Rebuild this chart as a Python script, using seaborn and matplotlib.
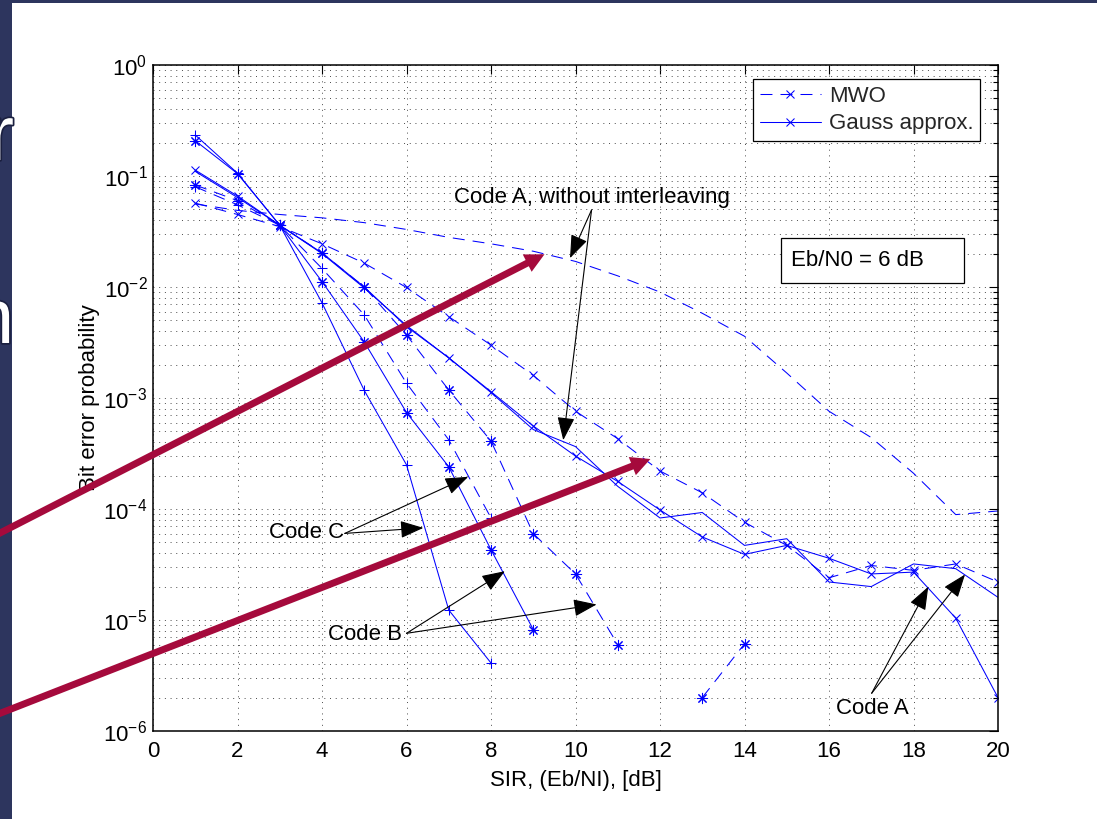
import numpy as np
import matplotlib
matplotlib.use("Agg")
import matplotlib.pyplot as plt
import matplotlib.patheffects as pe
import seaborn as sns
from matplotlib.lines import Line2D
from matplotlib.patches import Rectangle, FancyArrowPatch
from matplotlib.ticker import (NullFormatter, NullLocator, FixedLocator,
                               LogFormatterSciNotation)

nan = np.nan

# SIR grid (Eb/NI in dB)
sir = np.arange(1, 21)

# Code A, without interleaving
a_noint_mwo = [0.056, 0.049, 0.045, 0.042, 0.038, 0.033, 0.028, 0.0245, 0.021, 0.017,
               0.0126, 0.0090, 0.0058, 0.0036, 0.00168, 7.6e-4, 4.4e-4, 2.1e-4, 8.9e-5, 9.6e-5]
a_noint_gauss = [0.11, 0.064, 0.036, 0.0200, 0.0098, 0.0045, 0.0023, 0.00112, 5.2e-4, 3.65e-4,
                 1.6e-4, 8.3e-5, 9.3e-5, 4.7e-5, 5.4e-5, 2.2e-5, 2.0e-5, 3.2e-5, 2.9e-5, 1.6e-5]
# Code A
a_mwo = [0.057, 0.045, 0.035, 0.0245, 0.0164, 0.0099, 0.0054, 0.0030, 0.0016, 7.6e-4,
         4.3e-4, 2.2e-4, 1.4e-4, 7.6e-5, 4.7e-5, 2.4e-5, 3.1e-5, 2.8e-5, 3.2e-5, 2.2e-5]
a_gauss = [0.113, 0.066, 0.036, 0.0203, 0.0100, 0.0044, 0.0023, 0.00114, 5.6e-4, 3.0e-4,
           1.77e-4, 9.8e-5, 5.6e-5, 3.9e-5, 4.7e-5, 3.6e-5, 2.6e-5, 2.7e-5, 1.04e-5, 2.0e-6]
# Code B
b_mwo = [0.083, 0.060, 0.036, 0.0203, 0.0100, 0.0037, 0.00118, 4.1e-4, 6.0e-5, 2.6e-5,
         6.0e-6, nan, 2.0e-6, 6.1e-6, nan, nan, nan, nan, nan, nan]
b_gauss = [0.208, 0.105, 0.036, 0.0112, 0.0032, 7.4e-4, 2.4e-4, 4.3e-5, 8.2e-6, nan,
           nan, nan, nan, nan, nan, nan, nan, nan, nan, nan]
# Code C
c_mwo = [0.080, 0.055, 0.036, 0.0147, 0.0056, 0.00136, 4.2e-4, 8.3e-5, nan, nan,
         nan, nan, nan, nan, nan, nan, nan, nan, nan, nan]
c_gauss = [0.234, 0.106, 0.036, 0.0072, 0.00117, 2.5e-4, 1.23e-5, 4.1e-6, nan, nan,
           nan, nan, nan, nan, nan, nan, nan, nan, nan, nan]

x_ticks = list(range(0, 21, 2))
y_decades = list(range(-6, 1))
legend_labels = ["MWO", "Gauss approx."]

sns.set_theme(style="white")
plt.rcParams["font.family"] = ["Liberation Sans", "DejaVu Sans"]
plt.rcParams["mathtext.default"] = "regular"
plt.rcParams["lines.scale_dashes"] = False

W, H = 1097, 819
NAVY = "#2D355E"
RED = "#A50A3C"
BLUE = "#0000FF"
DASH = (0, (8.6, 5.8))
FS = 16

fig = plt.figure(figsize=(W / 100, H / 100), dpi=100)
fig.patch.set_facecolor("white")


def fx(px):
    return px / W


def fy(py):
    return 1 - py / H


# slide frame
fig.add_artist(Rectangle((0, 0), fx(12), 1, transform=fig.transFigure,
                         facecolor=NAVY, edgecolor="none", zorder=0))
fig.add_artist(Rectangle((0, fy(3)), 1, 3 / H, transform=fig.transFigure,
                         facecolor=NAVY, edgecolor="none", zorder=0))
for ch, base in (("r", 160), ("n", 343)):
    fig.text(fx(14), fy(base), ch, ha="right", va="baseline", fontsize=56,
             color="white", zorder=1,
             path_effects=[pe.withStroke(linewidth=2.5, foreground="#1b2040")])

ax = fig.add_axes([fx(153), fy(731), (998 - 153) / W, (731 - 65) / H])
ax.set_facecolor("white")
ax.set_yscale("log")


def draw(y, style, marker=None, ms=6.0):
    y = np.asarray(y, dtype=float)
    ok = np.isfinite(y)
    # split into contiguous runs so missing points leave a gap
    edges = np.flatnonzero(np.diff(np.r_[0, ok.astype(int), 0]))
    for s, e in zip(edges[::2], edges[1::2]):
        kw = dict(color=BLUE, lw=0.75, linestyle=style, ax=ax, legend=False)
        if marker is not None:
            kw.update(marker=marker, markersize=ms, markeredgewidth=0.75,
                      markeredgecolor=BLUE, markerfacecolor="none")
        sns.lineplot(x=sir[s:e], y=y[s:e], **kw)


AST = (8, 2, 0)
draw(a_noint_mwo, DASH)
draw(a_noint_gauss, "-")
draw(a_mwo, DASH, "x", 5.8)
draw(a_gauss, "-", "x", 5.8)
draw(b_mwo, DASH, AST, 8.0)
draw(b_gauss, "-", AST, 8.0)
draw(c_mwo, DASH, "+", 7.5)
draw(c_gauss, "-", "+", 7.5)

ax.set_xlim(0, 20)
ax.set_ylim(1e-6, 1)
ax.xaxis.set_major_locator(FixedLocator(x_ticks))
ax.xaxis.set_minor_locator(NullLocator())
ax.yaxis.set_major_locator(FixedLocator([10.0 ** d for d in y_decades]))
ax.yaxis.set_major_formatter(LogFormatterSciNotation())
ax.yaxis.set_minor_locator(FixedLocator(
    [k * 10.0 ** d for d in y_decades[:-1] for k in range(2, 10)]))
ax.yaxis.set_minor_formatter(NullFormatter())

dots = (0, (0.7, 3.4))
ax.grid(True, which="major", axis="both", color="#4a4a4a", lw=0.7, linestyle=dots)
ax.grid(True, which="minor", axis="y", color="#4a4a4a", lw=0.7, linestyle=dots)
ax.set_axisbelow(True)

for sp in ax.spines.values():
    sp.set_visible(True)
    sp.set_color("black")
    sp.set_linewidth(1.1)
ax.tick_params(which="both", direction="in", top=True, right=True, colors="black",
               labelsize=FS, width=0.8)
ax.tick_params(which="major", length=6.5)
ax.tick_params(which="minor", length=3.5)
ax.tick_params(axis="x", pad=7)
ax.tick_params(axis="y", pad=4)

ax.set_xlabel("SIR, (Eb/NI), [dB]", fontsize=FS, color="black", labelpad=6)
ax.set_ylabel("Bit error probability", fontsize=FS, color="black", labelpad=2)

# legend
handles = [
    Line2D([], [], color=BLUE, lw=0.75, linestyle=DASH, marker="x", markersize=5.8,
           markeredgewidth=0.75),
    Line2D([], [], color=BLUE, lw=0.75, linestyle="-", marker="x", markersize=5.8,
           markeredgewidth=0.75),
]
leg = ax.legend(handles, legend_labels, loc="upper right",
                bbox_to_anchor=(fx(980), fy(79)), bbox_transform=fig.transFigure,
                borderaxespad=0, fontsize=FS, frameon=True, fancybox=False,
                framealpha=1, edgecolor="black", handlelength=2.75,
                handletextpad=0.35, borderpad=0.3, labelspacing=0.3)
leg.get_frame().set_linewidth(0.9)

# Eb/N0 box
ax.add_patch(Rectangle((0.7428, 0.6731), 0.2173, 0.0676, transform=ax.transAxes,
                       facecolor="white", edgecolor="black", lw=0.9, zorder=5))
ax.text(0.755, 0.7072, "Eb/N0 = 6 dB", transform=ax.transAxes, ha="left",
        va="center", fontsize=FS, color="black", zorder=6)

# annotations
arrow_kw = dict(arrowstyle="-|>,head_length=0.8,head_width=0.3", color="black",
                lw=0.8, shrinkA=0, shrinkB=0, mutation_scale=18)


def note(text, txy, start, tips):
    ax.text(txy[0], txy[1], text, ha="center", va="center", fontsize=FS,
            color="black", zorder=7)
    for tip in tips:
        ax.annotate("", xy=tip, xytext=start, arrowprops=arrow_kw, zorder=7)


note("Code A, without interleaving", (10.40, 10 ** -1.19), (10.38, 10 ** -1.306),
     [(9.87, 10 ** -1.74), (9.71, 10 ** -3.38)])
note("Code C", (3.63, 10 ** -4.216), (4.54, 10 ** -4.22),
     [(7.46, 10 ** -3.71), (6.40, 10 ** -4.17)])
note("Code B", (5.02, 10 ** -5.13), (6.0, 10 ** -5.12),
     [(8.33, 10 ** -4.56), (10.50, 10 ** -4.86)])
note("Code A", (17.02, 10 ** -5.80), (17.01, 10 ** -5.66),
     [(18.35, 10 ** -4.70), (19.22, 10 ** -4.59)])

# highlight arrows over the slide
for (x0, y0), (x1, y1) in (((-40, 553.5), (547, 253)), ((-40, 729), (653, 458))):
    fig.add_artist(FancyArrowPatch(
        (fx(x0), fy(y0)), (fx(x1), fy(y1)), transform=fig.transFigure,
        arrowstyle="simple,head_length=14,head_width=14,tail_width=5",
        mutation_scale=1, facecolor=RED, edgecolor="none", zorder=20))

fig.savefig("out.png", dpi=100, facecolor="white")
